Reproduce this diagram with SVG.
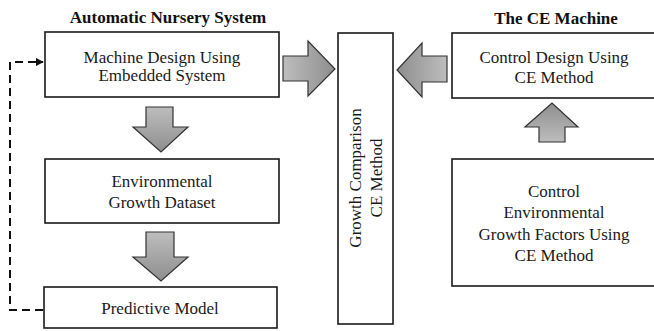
<svg xmlns="http://www.w3.org/2000/svg" width="654" height="331" viewBox="0 0 654 331">
<style>
  .box { fill: #fff; stroke: #1a1a1a; stroke-width: 1.6; }
  .t { font-family: "Liberation Serif", "Times New Roman", serif; font-size: 17px; fill: #1a1a1a; text-anchor: middle; }
  .title { font-family: "Liberation Serif", "Times New Roman", serif; font-size: 17px; font-weight: bold; fill: #111; text-anchor: middle; }
  .blk { stroke: #333; stroke-width: 1.2; stroke-linejoin: miter; }
  .dash { fill: none; stroke: #111; stroke-width: 2; stroke-dasharray: 8 5; }
</style>
<defs>
  <linearGradient id="gH" x1="0" y1="0" x2="1" y2="0">
    <stop offset="0" stop-color="#bdbdbd"/>
    <stop offset="1" stop-color="#8e8e8e"/>
  </linearGradient>
  <linearGradient id="gV" x1="0" y1="0" x2="0" y2="1">
    <stop offset="0" stop-color="#bdbdbd"/>
    <stop offset="1" stop-color="#8e8e8e"/>
  </linearGradient>
  <linearGradient id="gHr" x1="1" y1="0" x2="0" y2="0">
    <stop offset="0" stop-color="#bdbdbd"/>
    <stop offset="1" stop-color="#8e8e8e"/>
  </linearGradient>
  <linearGradient id="gVu" x1="0" y1="1" x2="0" y2="0">
    <stop offset="0" stop-color="#bdbdbd"/>
    <stop offset="1" stop-color="#8e8e8e"/>
  </linearGradient>
  <marker id="ah" viewBox="0 0 10 10" refX="9" refY="5" markerWidth="4" markerHeight="4" orient="auto" markerUnits="strokeWidth">
    <path d="M0,0 L10,5 L0,10 z" fill="#111"/>
  </marker>
</defs>

<text class="title" x="168" y="23">Automatic Nursery System</text>
<text class="title" x="556" y="24">The CE Machine</text>

<g id="node-machine-design">
  <rect class="box" x="45" y="32" width="234" height="65"/>
  <text class="t" x="162" y="63">Machine Design Using</text>
  <text class="t" x="162" y="81">Embedded System</text>
</g>

<g id="node-env-dataset">
  <rect class="box" x="45" y="159" width="234" height="64"/>
  <text class="t" x="162" y="187">Environmental</text>
  <text class="t" x="162" y="208">Growth Dataset</text>
</g>

<g id="node-predictive">
  <rect class="box" x="44" y="287" width="233" height="41"/>
  <text class="t" x="160" y="314">Predictive Model</text>
</g>

<g id="node-growth-comparison">
  <rect class="box" x="338" y="33" width="55" height="291"/>
  <text class="t" transform="translate(361,178) rotate(-90)" x="0" y="0">Growth Comparison</text>
  <text class="t" transform="translate(382,178) rotate(-90)" x="0" y="0">CE Method</text>
</g>

<g id="node-control-design">
  <rect class="box" x="452" y="33" width="204" height="65"/>
  <text class="t" x="554" y="63">Control Design Using</text>
  <text class="t" x="554" y="83">CE Method</text>
</g>

<g id="node-control-env">
  <rect class="box" x="452" y="159" width="204" height="127"/>
  <text class="t" x="554" y="197">Control</text>
  <text class="t" x="554" y="218">Environmental</text>
  <text class="t" x="554" y="240">Growth Factors Using</text>
  <text class="t" x="554" y="261">CE Method</text>
</g>

<g id="connectors">
  <!-- block arrows -->
  <path class="blk" fill="url(#gV)" d="M146,107 H173 V127 H188 L161,152 L133,127 H146 Z"/>
  <path class="blk" fill="url(#gV)" d="M146,232 H174 V257 H188 L161,281 L133,257 H146 Z"/>
  <path class="blk" fill="url(#gH)" d="M283,56 H308 V41 L335,69 L308,96 V81 H283 Z"/>
  <path class="blk" fill="url(#gHr)" d="M447,56 H422 V43 L397,70 L422,97 V82 H447 Z"/>
  <path class="blk" fill="url(#gVu)" d="M539,142 V127 H525 L552,103 L578,127 H565 V142 Z"/>
  <!-- dashed feedback -->
  <path class="dash" d="M43,310 H10 V62 H37"/>
  <path d="M33,62 H43" stroke="#111" stroke-width="2" marker-end="url(#ah)"/>
</g>
</svg>
